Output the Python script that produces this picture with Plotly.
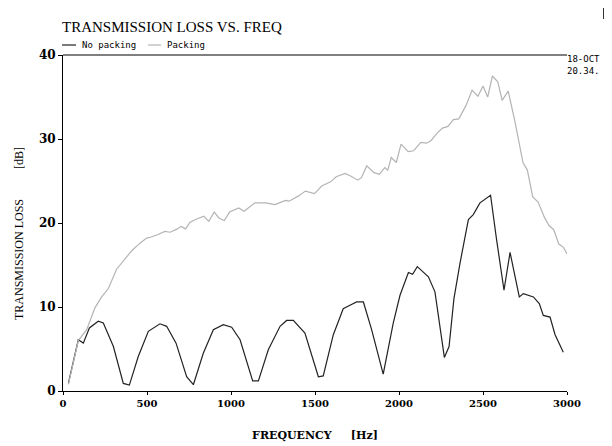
import plotly.graph_objects as go

# No packing (black)
freq_np = [32, 91, 121, 157, 210, 240, 300, 359, 395, 448, 508, 577, 617, 673, 736, 776,
           835, 895, 954, 1004, 1054, 1129, 1163, 1222, 1292, 1331, 1371, 1440, 1520, 1549,
           1609, 1668, 1708, 1748, 1788, 1837, 1906, 1966, 2006, 2056, 2081, 2109, 2175, 2214,
           2270, 2298, 2327, 2363, 2413, 2442, 2482, 2532, 2545, 2581, 2625, 2661, 2716, 2740,
           2800, 2835, 2859, 2899, 2929, 2978]
tl_np = [0.9, 6.1, 5.7, 7.5, 8.3, 8.1, 5.3, 0.9, 0.7, 4.1, 7.1, 8.0, 7.7, 5.7, 1.7, 0.75,
         4.5, 7.3, 7.9, 7.6, 6.1, 1.2, 1.2, 4.9, 7.7, 8.4, 8.4, 6.9, 1.7, 1.8,
         6.7, 9.8, 10.2, 10.6, 10.6, 7.3, 2.0, 8.1, 11.4, 14.1, 13.9, 14.8, 13.6, 11.8,
         4.0, 5.3, 11.0, 15.2, 20.4, 21.0, 22.4, 23.2, 23.3, 18.0, 12.0, 16.5, 11.2, 11.6,
         11.2, 10.4, 9.0, 8.8, 6.7, 4.6]

# Packing (grey)
freq_p = [32, 91, 141, 171, 190, 230, 270, 319, 359, 409, 458, 498, 520, 563, 606, 638, 681,
          702, 730, 756, 799, 838, 868, 900, 928, 960, 992, 1046, 1078, 1142, 1207, 1261, 1325,
          1346, 1400, 1443, 1497, 1540, 1593, 1626, 1679, 1712, 1755, 1776, 1808, 1851, 1883,
          1916, 1933, 1954, 1984, 2012, 2055, 2087, 2130, 2163, 2190, 2227, 2259, 2291, 2324,
          2356, 2399, 2435, 2470, 2500, 2528, 2556, 2588, 2614, 2650, 2689, 2738, 2764, 2796,
          2828, 2865, 2893, 2921, 2951, 2979, 3000]
tl_p = [0.8, 6.0, 7.3, 8.9, 9.9, 11.2, 12.2, 14.5, 15.5, 16.7, 17.6, 18.2, 18.3, 18.6, 19.0,
        18.9, 19.3, 19.6, 19.3, 20.1, 20.5, 20.8, 20.2, 21.3, 20.6, 20.3, 21.3, 21.8, 21.4,
        22.4, 22.4, 22.2, 22.7, 22.6, 23.2, 23.8, 23.5, 24.4, 24.9, 25.5, 25.9, 25.6, 25.1,
        25.4, 26.8, 26.0, 25.8, 26.6, 26.3, 27.8, 27.2, 29.4, 28.5, 28.6, 29.6, 29.5, 29.8,
        30.7, 31.3, 31.5, 32.3, 32.4, 34.0, 35.8, 35.1, 36.3, 35.0, 37.5, 36.8, 34.6, 35.7,
        32.2, 27.2, 26.3, 23.1, 22.5, 20.7, 19.7, 19.2, 17.5, 17.1, 16.3]

x_ticks = [0, 500, 1000, 1500, 2000, 2500, 3000]
y_ticks = [0, 10, 20, 30, 40]
series_names = ["No packing", "Packing"]
series_colors = ["#222222", "#b4b4b4"]

serif = "Liberation Serif"
cserif = "DejaVu Serif"
mono = "DejaVu Sans Mono"

W, H = 604, 438          # page has an 8px body margin
L, R, T, B = 55, 45, 47, 55

fig = go.Figure()
fig.add_trace(go.Scatter(x=freq_np, y=tl_np, mode="lines", name=series_names[0],
                         line=dict(color=series_colors[0], width=1.2)))
fig.add_trace(go.Scatter(x=freq_p, y=tl_p, mode="lines", name=series_names[1],
                         line=dict(color=series_colors[1], width=1.2)))

pw, ph = W - L - R, H - T - B
def px(x):
    return (x - L) / pw
def py(y):
    return (H - B - y) / ph

leg_y = py(37)
shapes = [
    dict(type="line", xref="paper", yref="paper", x0=0, x1=1, y0=1, y1=1,
         line=dict(color="black", width=1)),
    dict(type="rect", xref="paper", yref="paper", x0=px(595), x1=px(602), y0=py(11), y1=py(0),
         fillcolor="#333333", line=dict(width=0)),
    dict(type="line", xref="paper", yref="paper", x0=px(54), x1=px(68), y0=leg_y, y1=leg_y,
         line=dict(color=series_colors[0], width=1.2)),
    dict(type="line", xref="paper", yref="paper", x0=px(140), x1=px(153), y0=leg_y, y1=leg_y,
         line=dict(color=series_colors[1], width=1.2)),
]
annotations = [
    dict(text=series_names[0], xref="paper", yref="paper", x=px(72), y=leg_y,
         xanchor="left", yanchor="middle", showarrow=False,
         font=dict(family=mono, size=9, color="black")),
    dict(text=series_names[1], xref="paper", yref="paper", x=px(157), y=leg_y,
         xanchor="left", yanchor="middle", showarrow=False,
         font=dict(family=mono, size=9, color="black")),
    dict(text="18-OCT<br>20.34.", xref="paper", yref="paper", x=px(557), y=py(44),
         xanchor="left", yanchor="top", showarrow=False, align="left",
         font=dict(family=mono, size=9, color="black")),
]

ytitle = ("TRANSMISSION LOSS" + "\u00a0" * 10 + "[dB]"
          + '<span style="color:rgba(0,0,0,0)">' + "\u00a0" * 6 + ".</span>")

fig.update_layout(
    width=W, height=H,
    paper_bgcolor="white", plot_bgcolor="white",
    margin=dict(l=L, r=R, t=T, b=B, autoexpand=False),
    title=dict(text="TRANSMISSION LOSS VS. FREQ", x=54 / W, xanchor="left",
               y=1 - 19 / H, yanchor="middle",
               font=dict(family=serif, size=15, color="black")),
    showlegend=False,
    xaxis=dict(range=[0, 3000], tickvals=x_ticks, ticktext=[str(v) for v in x_ticks],
               showgrid=False, zeroline=False, showline=True, linecolor="black", linewidth=1,
               ticks="outside", ticklen=3, tickcolor="black", automargin=False,
               tickfont=dict(family=cserif, size=10, color="black", weight="bold"),
               title=dict(text="FREQUENCY" + "\u00a0" * 5 + "[Hz]",
                          font=dict(family=cserif, size=11, color="black", weight="bold"),
                          standoff=23)),
    yaxis=dict(range=[0, 40], tickvals=y_ticks, ticktext=[str(v) for v in y_ticks],
               showgrid=False, zeroline=False, showline=True, linecolor="black", linewidth=1,
               ticks="outside", ticklen=4, tickcolor="black", automargin=False,
               tickfont=dict(family=cserif, size=12, color="black", weight="bold"),
               title=dict(text=ytitle,
                          font=dict(family=serif, size=12, color="black"),
                          standoff=12)),
    shapes=shapes,
    annotations=annotations,
)

fig.write_html("out.html")
